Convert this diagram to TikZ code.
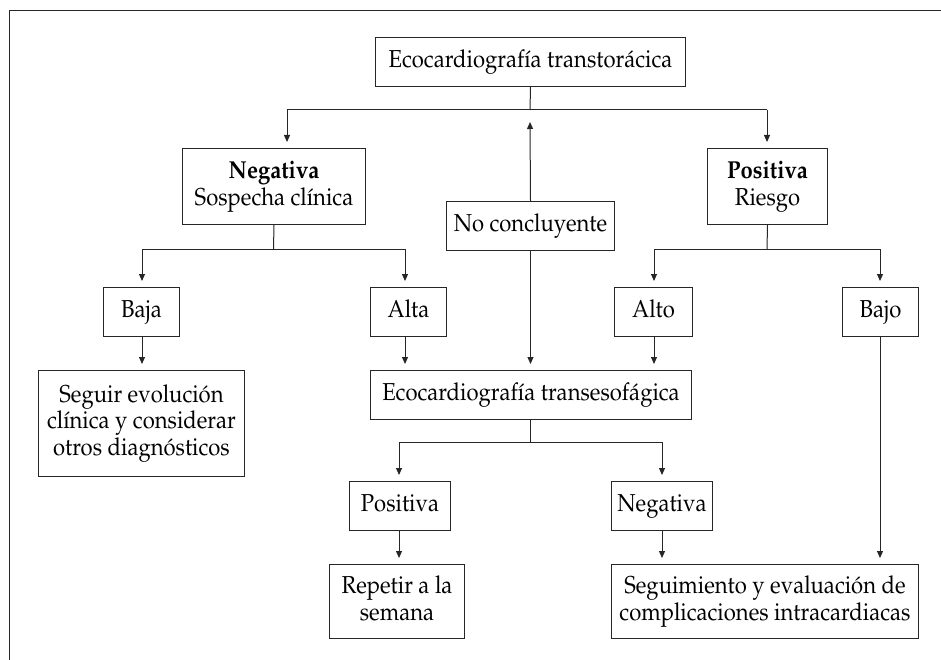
\documentclass[tikz,border=0pt]{standalone}
\usepackage[T1]{fontenc}
\usepackage{mathpazo}
\usepackage{graphicx}
\usetikzlibrary{arrows.meta}
\newcommand{\cz}[1]{\scalebox{0.9}[1]{\begin{tabular}{@{}c@{}}#1\end{tabular}}}
\begin{document}
\begin{tikzpicture}[x=1pt,y=-1pt,
  box/.style={draw=black!85, line width=1pt, inner sep=0pt, align=center, anchor=north west,
    font=\fontsize{24.5}{26.5}\selectfont},
  link/.style={draw=black!85, line width=1pt},
  arr/.style={link, -{Triangle[length=7pt,width=6pt]}, shorten >=6pt}]
\useasboundingbox (0,0) rectangle (941,660);
% frame
\draw[link] (9,660) -- (9,11) -- (941,11);
% nodes
\node[box, minimum width=310, minimum height=49] (T) at (375,37) {\cz{Ecocardiografía transtorácica}};
\node[box, minimum width=183, minimum height=76] (N) at (182,148) {\cz{\textbf{Negativa}\\Sospecha clínica}};
\node[box, minimum width=120, minimum height=76] (P) at (707,148) {\cz{\textbf{Positiva}\\Riesgo}};
\node[box, minimum width=168, minimum height=49] (NC) at (446,201) {\cz{No concluyente}};
\node[box, minimum width=76, minimum height=49] (Baja) at (103,287) {\cz{Baja}};
\node[box, minimum width=76, minimum height=49] (Alta) at (370,287) {\cz{Alta}};
\node[box, minimum width=78, minimum height=49] (Alto) at (614,287) {\cz{Alto}};
\node[box, minimum width=76, minimum height=49] (Bajo) at (842,287) {\cz{Bajo}};
\node[box, minimum width=206, minimum height=106] (Seg) at (38,370) {\cz{Seguir evolución\\clínica y considerar\\otros diagnósticos}};
\node[box, minimum width=321, minimum height=49] (TEE) at (370,370) {\cz{Ecocardiografía transesofágica}};
\node[box, minimum width=101, minimum height=49] (P2) at (349,481) {\cz{Positiva}};
\node[box, minimum width=101, minimum height=49] (N2) at (611,481) {\cz{Negativa}};
\node[box, minimum width=135, minimum height=74] (Rep) at (329,564) {\cz{Repetir a la\\semana}};
\node[box, minimum width=307, minimum height=74] (Sgm) at (611,564) {\cz{Seguimiento y evaluación de\\complicaciones intracardiacas}};
% junction coordinates
\coordinate (b1) at (530,110);
\coordinate (b1L) at (287,110);
\coordinate (b1R) at (767,110);
\coordinate (up) at (530,122);
\coordinate (b2) at (273.5,249);
\coordinate (b2L) at (142,249);
\coordinate (b2R) at (405,249);
\coordinate (b3) at (767,249);
\coordinate (b3L) at (654,249);
\coordinate (b3R) at (880,249);
\coordinate (b4) at (530,442);
\coordinate (b4L) at (399,442);
\coordinate (b4R) at (662,442);
% connectors
\draw[link] (T.south) -- (b1);
\draw[link] (b1L) -- (b1R);
\draw[arr] (b1L) -- (b1L |- N.north);
\draw[arr] (b1R) -- (b1R |- P.north);
\draw[link, -{Triangle[length=7pt,width=6pt]}] (NC.north) -- (up);
\draw[link] (N.south) -- (b2);
\draw[link] (b2L) -- (b2R);
\draw[arr] (b2L) -- (b2L |- Baja.north);
\draw[arr] (b2R) -- (b2R |- Alta.north);
\draw[link] (P.south) -- (b3);
\draw[link] (b3L) -- (b3R);
\draw[arr] (b3L) -- (b3L |- Alto.north);
\draw[arr] (b3R) -- (b3R |- Bajo.north);
\draw[arr] (b2L |- Baja.south) -- (b2L |- Seg.north);
\draw[arr] (b2R |- Alta.south) -- (b2R |- TEE.north);
\draw[arr] (NC.south) -- (NC.south |- TEE.north);
\draw[arr] (b3L |- Alto.south) -- (b3L |- TEE.north);
\draw[link] (b4 |- TEE.south) -- (b4);
\draw[link] (b4L) -- (b4R);
\draw[arr] (b4L) -- (b4L |- P2.north);
\draw[arr] (b4R) -- (b4R |- N2.north);
\draw[arr] (b4L |- P2.south) -- (b4L |- Rep.north);
\draw[arr] (b4R |- N2.south) -- (b4R |- Sgm.north);
\draw[arr] (b3R |- Bajo.south) -- (b3R |- Sgm.north);
\end{tikzpicture}
\end{document}
